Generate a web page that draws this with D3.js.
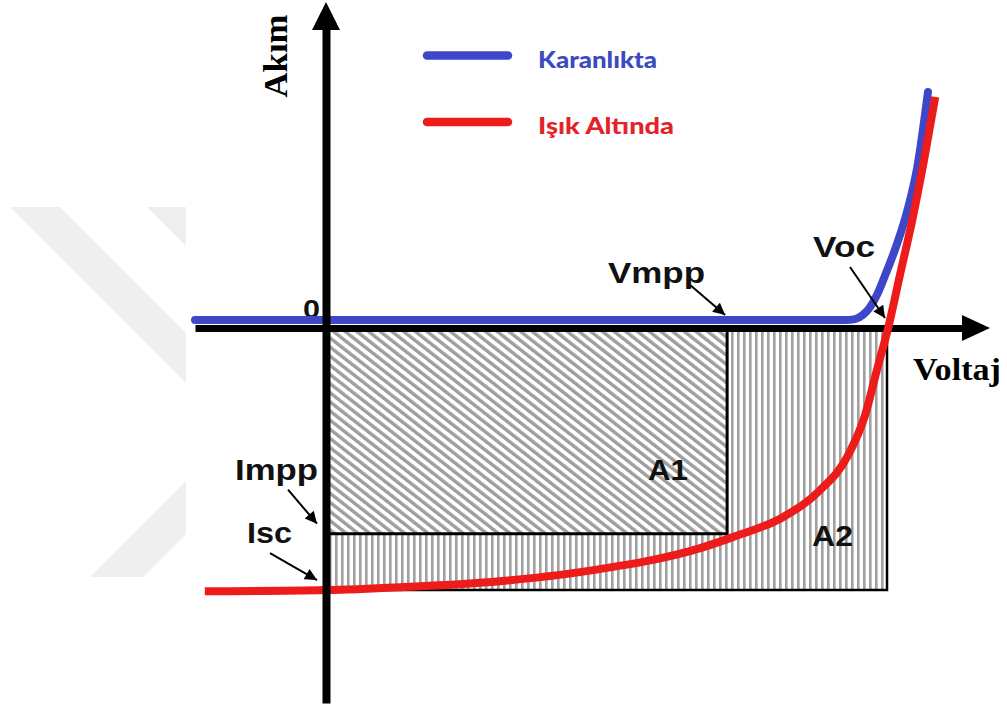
<!DOCTYPE html>
<html>
<head>
<meta charset="utf-8">
<script src="https://cdn.jsdelivr.net/npm/d3@7"></script>
<style>
  html, body { margin: 0; padding: 0; background: #fff; }
  svg { display: block; }
</style>
</head>
<body>
<svg id="chart" width="1007" height="706"></svg>
<script>
// Solar cell I–V characteristics, normalised so that Voc = 1 and Isc = -1.
// Curve measured in the dark (Karanlıkta)
const darkV = [-0.2335, 0.5, 0.925, 0.943, 0.957, 0.970, 0.982, 0.996, 1.014, 1.034, 1.054, 1.073];
const darkI = [0.0305, 0.0305, 0.0305, 0.034, 0.050, 0.080, 0.126, 0.198, 0.298, 0.431, 0.615, 0.901];

// Curve measured under illumination (Işık Altında)
const lightV = [-0.216, 0.0, 0.132, 0.310, 0.488, 0.667, 0.725, 0.815, 0.881, 0.929, 0.961, 0.982, 1.002, 1.023, 1.045, 1.066, 1.086];
const lightI = [-1.005, -1.0, -0.989, -0.966, -0.920, -0.840, -0.798, -0.721, -0.618, -0.492, -0.332, -0.160, 0.0, 0.202, 0.412, 0.641, 0.882];

// Characteristic points
const Voc = 1.0, Isc = -1.0, Vmpp = 0.715, Impp = -0.785;

// Legend entries
const legendLabels = ["Karanlıkta", "Işık Altında"];
const legendColors = ["#3d47c8", "#ee1b1b"];
const legendTextColors = ["#3c4bbf", "#e2232a"];

const svg = d3.select("#chart");

const x = d3.scaleLinear().domain([-0.2335, 1.139]).range([195, 965]);
const y = d3.scaleLinear().domain([-1.431, 1.145]).range([703, 28]);

const defs = svg.append("defs");

// hatch patterns
defs.append("pattern")
  .attr("id", "hatchDiag").attr("patternUnits", "userSpaceOnUse")
  .attr("width", 7.2).attr("height", 10)
  .attr("patternTransform", "rotate(-52)")
  .append("rect").attr("width", 3.4).attr("height", 10).attr("fill", "#9e9e9e");

defs.append("pattern")
  .attr("id", "hatchVert").attr("patternUnits", "userSpaceOnUse")
  .attr("x", x(0)).attr("width", 6).attr("height", 10)
  .append("rect").attr("x", 3).attr("width", 2.6).attr("height", 10).attr("fill", "#a0a0a0");

defs.append("marker")
  .attr("id", "arrowHead").attr("markerUnits", "userSpaceOnUse")
  .attr("viewBox", "0 0 10 10").attr("refX", 10).attr("refY", 5)
  .attr("markerWidth", 15).attr("markerHeight", 12).attr("orient", "auto")
  .append("path").attr("d", "M0,0 L10,5 L0,10 Z").attr("fill", "#000");

// faint background emblem
const emblem = svg.append("g").attr("fill", "#efefef");
[
  [[10, 207], [60, 207], [186, 333], [186, 383]],
  [[147, 207], [186, 207], [186, 246]],
  [[90, 577], [143, 577], [186, 534], [186, 481]]
].forEach(p => emblem.append("polygon").attr("points", p.map(d => d.join(",")).join(" ")));

// A2 region (vertical hatch) and A1 rectangle (diagonal hatch)
const a2 = [[Vmpp, 0], [Voc, 0], [Voc, Isc], [0, Isc], [0, Impp], [Vmpp, Impp]];
svg.append("polygon")
  .attr("points", a2.map(d => [x(d[0]), y(d[1])].join(",")).join(" "))
  .attr("fill", "url(#hatchVert)");

svg.append("rect")
  .attr("x", x(0)).attr("y", y(0))
  .attr("width", x(Vmpp) - x(0)).attr("height", y(Impp) - y(0))
  .attr("fill", "url(#hatchDiag)");

// rectangle borders
const border = svg.append("g").attr("stroke", "#000").attr("fill", "none");
border.append("path")
  .attr("d", `M${x(0)},${y(Impp)} H${x(Vmpp)} V${y(0)}`)
  .attr("stroke-width", 3);
border.append("path")
  .attr("d", `M${x(0)},${y(Isc)} H${x(Voc)} V${y(0)}`)
  .attr("stroke-width", 2.5);

// axes without ticks, arrow-headed
const xAxis = svg.append("g").attr("transform", `translate(0,${y(0)})`)
  .call(d3.axisBottom(x).tickValues([]).tickSizeOuter(0));
xAxis.select(".domain").attr("stroke", "#000").attr("stroke-width", 7);

svg.append("path")
  .attr("d", `M${x.range()[1] - 3},${y(0) - 13} L${x.range()[1] + 25},${y(0)} L${x.range()[1] - 3},${y(0) + 13} Z`)
  .attr("fill", "#000");

const sans = "'Liberation Sans', Arial, sans-serif";
const serif = "'Liberation Serif', 'Times New Roman', serif";

// zero mark, partly tucked under the dark curve
svg.append("text")
  .attr("x", 303).attr("y", 318)
  .attr("font-family", sans).attr("font-weight", "bold").attr("font-size", 26)
  .attr("textLength", 17).attr("lengthAdjust", "spacingAndGlyphs")
  .attr("fill", "#111").text("0");

// curves
const line = d3.line().x(d => x(d[0])).y(d => y(d[1])).curve(d3.curveMonotoneX);

svg.append("path")
  .datum(darkV.map((v, i) => [v, darkI[i]]))
  .attr("d", line)
  .attr("fill", "none").attr("stroke", legendColors[0])
  .attr("stroke-width", 8).attr("stroke-linecap", "round").attr("stroke-linejoin", "round");

svg.append("path")
  .datum(lightV.map((v, i) => [v, lightI[i]]))
  .attr("d", line)
  .attr("fill", "none").attr("stroke", legendColors[1])
  .attr("stroke-width", 8).attr("stroke-linejoin", "round");

const yAxis = svg.append("g").attr("transform", `translate(${x(0)},0)`)
  .call(d3.axisLeft(y).tickValues([]).tickSizeOuter(0));
yAxis.select(".domain").attr("stroke", "#000").attr("stroke-width", 8);

svg.append("path")
  .attr("d", `M${x(0) - 14},${y.range()[1] + 2} L${x(0)},${y.range()[1] - 26} L${x(0) + 14},${y.range()[1] + 2} Z`)
  .attr("fill", "#000");

// annotation arrows
const arrows = [
  { from: [x(Vmpp) - 37, y(0) - 43], to: [x(Vmpp) - 2, y(0) - 13] },
  { from: [x(Voc) - 37, y(0) - 61], to: [x(Voc) - 2, y(0) - 10] },
  { from: [x(0) - 38, y(Impp) - 44], to: [x(0) - 9, y(Impp) - 10] },
  { from: [x(0) - 56, y(Isc) - 37], to: [x(0) - 9, y(Isc) - 10] }
];
svg.append("g").selectAll("line").data(arrows).join("line")
  .attr("x1", d => d.from[0]).attr("y1", d => d.from[1])
  .attr("x2", d => d.to[0]).attr("y2", d => d.to[1])
  .attr("stroke", "#000").attr("stroke-width", 2)
  .attr("marker-end", "url(#arrowHead)");

// text labels
const labels = [
  { t: "Vmpp", x: 608, y: 283, s: 29, len: 97 },
  { t: "Voc", x: 813, y: 257, s: 29, len: 62 },
  { t: "Impp", x: 235, y: 480, s: 30, len: 83 },
  { t: "Isc", x: 247, y: 543, s: 30, len: 45 },
  { t: "A1", x: 648, y: 480, s: 30, len: 40 },
  { t: "A2", x: 812, y: 546, s: 29, len: 41 }
];
svg.append("g").selectAll("text").data(labels).join("text")
  .attr("x", d => d.x).attr("y", d => d.y)
  .attr("font-family", sans).attr("font-weight", "bold")
  .attr("font-size", d => d.s)
  .attr("textLength", d => d.len).attr("lengthAdjust", "spacingAndGlyphs")
  .attr("fill", "#111")
  .text(d => d.t);

svg.append("text")
  .attr("transform", "translate(287,56) rotate(-90)")
  .attr("text-anchor", "middle")
  .attr("font-family", serif).attr("font-weight", "bold").attr("font-size", 34)
  .attr("textLength", 83).attr("lengthAdjust", "spacingAndGlyphs")
  .attr("fill", "#000").text("Akım");

svg.append("text")
  .attr("x", 913).attr("y", 380)
  .attr("font-family", serif).attr("font-weight", "bold").attr("font-size", 32)
  .attr("textLength", 88).attr("lengthAdjust", "spacingAndGlyphs")
  .attr("fill", "#000").text("Voltaj");

// legend
const legend = svg.append("g");
legendLabels.forEach((lab, i) => {
  const ly = 55.5 + i * 66.5;
  legend.append("line")
    .attr("x1", 427).attr("x2", 508).attr("y1", ly).attr("y2", ly)
    .attr("stroke", legendColors[i]).attr("stroke-width", 8.5).attr("stroke-linecap", "round");
  legend.append("text")
    .attr("x", 538).attr("y", ly + 12)
    .attr("font-family", "Lato, 'Open Sans', sans-serif").attr("font-weight", "900")
    .attr("font-size", 23)
    .attr("textLength", i === 0 ? 119 : 136).attr("lengthAdjust", "spacingAndGlyphs")
    .attr("fill", legendTextColors[i]).text(lab);
});
</script>
</body>
</html>
